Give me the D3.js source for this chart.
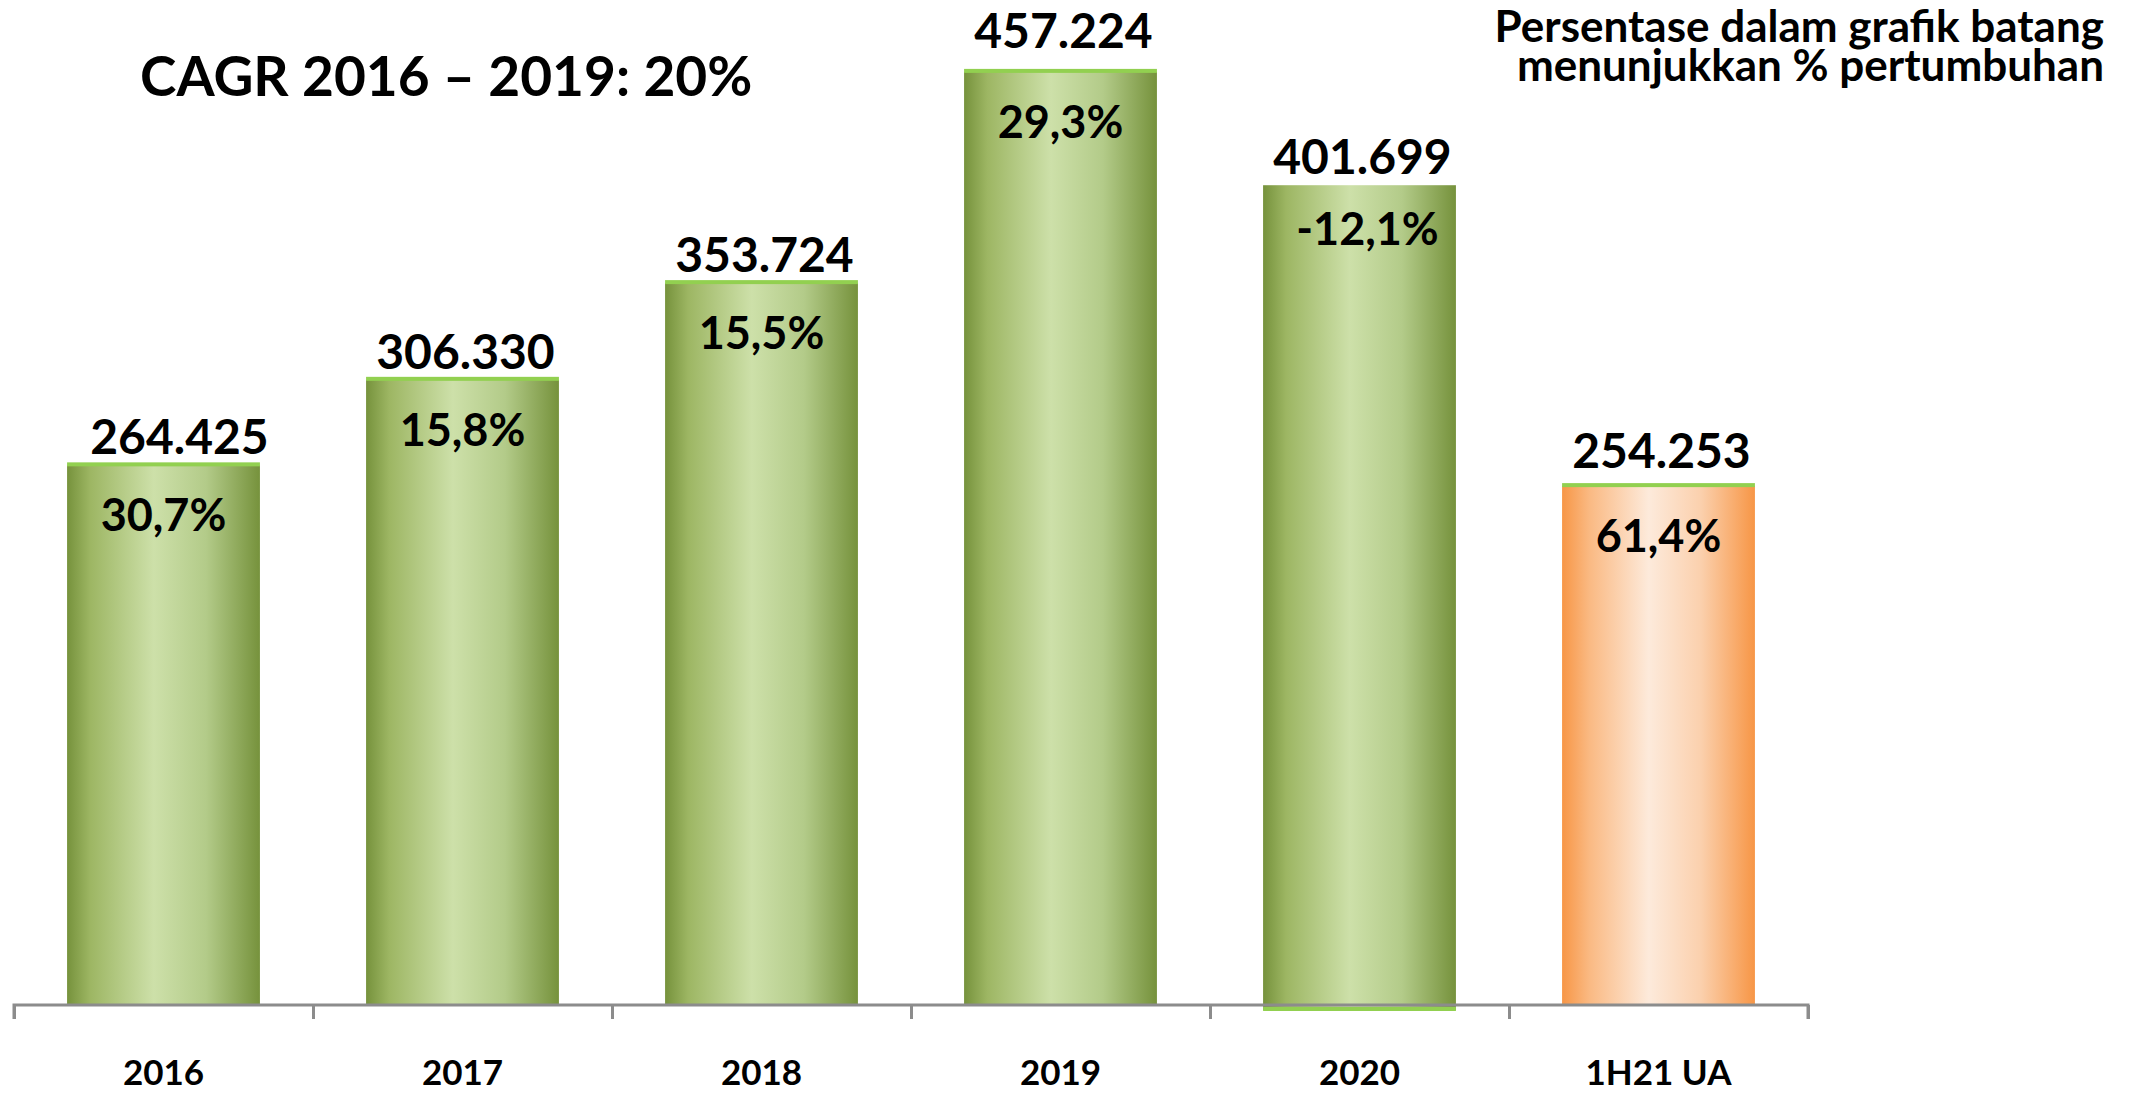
<!DOCTYPE html>
<html>
<head>
<meta charset="utf-8">
<script src="https://cdn.jsdelivr.net/npm/d3@7"></script>
<style>
  body { margin: 0; background: #fff; }
  text { font-family: Lato, "Open Sans", sans-serif; }
</style>
</head>
<body>
<div id="chart"></div>
<script>
const categories = ["2016", "2017", "2018", "2019", "2020", "1H21 UA"];
const values = [264425, 306330, 353724, 457224, 401699, 254253];
const growth = [30.7, 15.8, 15.5, 29.3, -12.1, 61.4];
const highlighted = ["1H21 UA"];

const titleText = "CAGR 2016 \u2013 2019: 20%";
const noteLines = ["Persentase dalam grafik batang", "menunjukkan % pertumbuhan"];

const width = 2136, height = 1093;
const axisY = 1005;

const idLocale = d3.formatLocale({ decimal: ",", thousands: ".", grouping: [3], currency: ["", ""], minus: "-" });
const fmtValue = idLocale.format(",");
const fmtGrowth = v => idLocale.format(".1f")(v) + "%";

const data = categories.map((c, i) => ({ label: c, value: values[i], growth: growth[i] }));
const maxValue = d3.max(values);

const svg = d3.select("#chart")
  .append("svg")
  .attr("width", width)
  .attr("height", height);

const defs = svg.append("defs");
const green = defs.append("linearGradient").attr("id", "gGreen");
[[0, "#76923c"], [0.12, "#9db663"], [0.45, "#cde0a9"], [0.72, "#b3cb89"], [1, "#76923c"]]
  .forEach(([o, c]) => green.append("stop").attr("offset", o).attr("stop-color", c));
const orange = defs.append("linearGradient").attr("id", "gOrange");
[[0, "#f79646"], [0.14, "#fab982"], [0.45, "#fdeadb"], [0.72, "#fbd0ad"], [1, "#f79646"]]
  .forEach(([o, c]) => orange.append("stop").attr("offset", o).attr("stop-color", c));

const xScale = d3.scaleBand()
  .domain(categories)
  .range([14, 1808])
  .paddingInner(0.355)
  .paddingOuter(0.1775);

const yScale = d3.scaleLinear()
  .domain([0, 490000])
  .range([axisY, 5]);

const bars = svg.append("g");

bars.selectAll("rect.bar")
  .data(data)
  .enter()
  .append("rect")
  .attr("class", "bar")
  .attr("x", d => xScale(d.label))
  .attr("y", d => yScale(d.value))
  .attr("width", xScale.bandwidth())
  .attr("height", d => yScale(0) - yScale(d.value) + (d.growth < 0 ? 5 : 0))
  .attr("fill", d => highlighted.includes(d.label) ? "url(#gOrange)" : "url(#gGreen)");

// thin green edge: on top of the bar, or at the foot when growth is negative
bars.selectAll("rect.edge")
  .data(data)
  .enter()
  .append("rect")
  .attr("class", "edge")
  .attr("x", d => xScale(d.label))
  .attr("y", d => d.growth < 0 ? yScale(0) + 2 : yScale(d.value) - 3)
  .attr("width", xScale.bandwidth())
  .attr("height", 4)
  .attr("fill", "#92d050");

// axis: boundary ticks between categories
const tickScale = d3.scaleLinear().domain([0, categories.length]).range(xScale.range());
const axisG = svg.append("g")
  .attr("transform", `translate(0, ${axisY})`)
  .call(d3.axisBottom(tickScale).ticks(categories.length).tickSize(14).tickSizeOuter(14).tickFormat(""));
axisG.selectAll("path, line")
  .attr("stroke", "#8c8c8c")
  .attr("stroke-width", 3);
axisG.select("path").attr("d", `M${tickScale(0)},14V0H${tickScale(categories.length)}V14`);

// category labels
svg.append("g")
  .selectAll("text")
  .data(data)
  .enter()
  .append("text")
  .text(d => d.label)
  .attr("x", d => xScale(d.label) + xScale.bandwidth() / 2)
  .attr("y", 1085)
  .attr("text-anchor", "middle")
  .style("font-size", "35px")
  .style("font-weight", "bold");

// value labels above bars
svg.append("g")
  .selectAll("text")
  .data(data)
  .enter()
  .append("text")
  .text(d => fmtValue(d.value))
  .attr("x", d => xScale(d.label) + xScale.bandwidth() / 2 + (d.label === categories[0] ? 16 : 3))
  .attr("y", d => yScale(d.value) - (d.value === maxValue ? 24 : highlighted.includes(d.label) ? 18 : 11))
  .attr("text-anchor", "middle")
  .style("font-size", "48px")
  .style("font-weight", "bold");

// growth labels inside bars
svg.append("g")
  .selectAll("text")
  .data(data)
  .enter()
  .append("text")
  .text(d => fmtGrowth(d.growth))
  .attr("x", d => xScale(d.label) + xScale.bandwidth() / 2 + (d.growth < 0 ? 8 : 0))
  .attr("y", d => yScale(d.value) + (d.growth < 0 ? 60 : 66))
  .attr("text-anchor", "middle")
  .style("font-size", "45px")
  .style("font-weight", "bold");

svg.append("text")
  .text(titleText)
  .attr("x", 140)
  .attr("y", 96)
  .style("font-size", "55px")
  .style("font-weight", "bold");

svg.append("g")
  .selectAll("text")
  .data(noteLines)
  .enter()
  .append("text")
  .text(d => d)
  .attr("x", 2104)
  .attr("y", (d, i) => 42 + i * 39)
  .attr("text-anchor", "end")
  .style("font-size", "44px")
  .style("font-weight", "bold");
</script>
</body>
</html>
